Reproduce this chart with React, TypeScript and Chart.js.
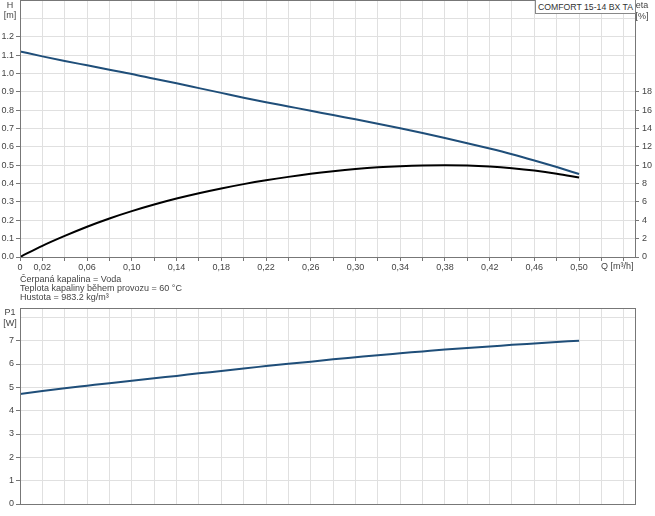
import React, { useEffect, useRef } from "react";
import { Chart, registerables } from "chart.js";

Chart.register(...registerables);

// ---- data ----
const Q = [0, 0.02, 0.04, 0.06, 0.08, 0.1, 0.12, 0.14, 0.16, 0.18, 0.2, 0.22, 0.24, 0.26, 0.28, 0.3, 0.32, 0.34, 0.36, 0.38, 0.4, 0.42, 0.44, 0.46, 0.48, 0.5];
const H = [1.12, 1.093, 1.068, 1.044, 1.02, 0.997, 0.971, 0.946, 0.92, 0.894, 0.868, 0.843, 0.82, 0.797, 0.773, 0.75, 0.726, 0.701, 0.675, 0.648, 0.62, 0.591, 0.56, 0.526, 0.49, 0.452];
const ETA = [0, 1.22, 2.3, 3.3, 4.2, 5.0, 5.72, 6.37, 6.95, 7.47, 7.94, 8.36, 8.73, 9.06, 9.34, 9.58, 9.77, 9.9, 9.98, 10.0, 9.96, 9.85, 9.67, 9.42, 9.08, 8.66];
const P1 = [4.71, 4.84, 4.96, 5.07, 5.18, 5.28, 5.39, 5.49, 5.6, 5.7, 5.81, 5.91, 6.01, 6.1, 6.2, 6.29, 6.38, 6.46, 6.54, 6.62, 6.69, 6.75, 6.82, 6.88, 6.94, 7.0];

// ---- ticks / labels ----
const Q_GRID = [0, 0.02, 0.04, 0.06, 0.08, 0.1, 0.12, 0.14, 0.16, 0.18, 0.2, 0.22, 0.24, 0.26, 0.28, 0.3, 0.32, 0.34, 0.36, 0.38, 0.4, 0.42, 0.44, 0.46, 0.48, 0.5, 0.52, 0.54];
const Q_LABELS = ["0", "0,02", "", "0,06", "", "0,10", "", "0,14", "", "0,18", "", "0,22", "", "0,26", "", "0,30", "", "0,34", "", "0,38", "", "0,42", "", "0,46", "", "0,50", "", ""];
const Q_MAX = 0.55;
const H_GRID = [0, 0.1, 0.2, 0.3, 0.4, 0.5, 0.6, 0.7, 0.8, 0.9, 1.0, 1.1, 1.2, 1.3, 1.4];
const H_LABELS = ["0.0", "0.1", "0.2", "0.3", "0.4", "0.5", "0.6", "0.7", "0.8", "0.9", "1.0", "1.1", "1.2", "", ""];
const H_MAX = 1.4;
const ETA_GRID = [0, 2, 4, 6, 8, 10, 12, 14, 16, 18];
const ETA_LABELS = ["0", "2", "4", "6", "8", "10", "12", "14", "16", "18"];
const ETA_MAX = 28;
const P1_GRID = [0, 1, 2, 3, 4, 5, 6, 7, 8];
const P1_LABELS = ["0", "1", "2", "3", "4", "5", "6", "7", ""];
const P1_MAX = 8.4;

const FONT = 'Arial, "Liberation Sans", sans-serif';
const GRID = "#e0e0e0";
const AXIS = "#777";
const TEXT = "#444";
const BLUE = "#1f4e79";

const align = (v: number) => Math.round(v - 0.5) + 0.5;

const framePlugin = {
  id: "frame",
  afterDraw(chart: any) {
    const { ctx, chartArea: a } = chart;
    ctx.save();
    ctx.strokeStyle = AXIS;
    ctx.lineWidth = 1;
    const l = align(a.left), t = align(a.top), r = align(a.right), b = align(a.bottom);
    ctx.strokeRect(l, t, r - l, b - t);
    ctx.restore();
  },
};

const setTicks = (grid: number[]) => (axis: any) => {
  axis.ticks = grid.map((v) => ({ value: v }));
};

const fitY = (s: any) => {
  s.width = 20;
  s.paddingTop = 0;
  s.paddingBottom = 0;
};

function makeXScale(showLabels: boolean, height: number) {
  return {
    type: "linear",
    min: 0,
    max: Q_MAX,
    afterBuildTicks: setTicks(Q_GRID),
    afterFit: (s: any) => {
      s.height = height;
      s.paddingLeft = 0;
      s.paddingRight = 0;
    },
    border: { color: AXIS },
    grid: { color: GRID, tickColor: AXIS, tickLength: showLabels ? 4 : 0, drawTicks: showLabels },
    ticks: {
      display: showLabels,
      autoSkip: false,
      maxRotation: 0,
      minRotation: 0,
      padding: 1,
      color: TEXT,
      font: { family: FONT, size: 9 },
      callback: (_v: any, i: number) => Q_LABELS[i],
    },
  };
}

function TopChart() {
  const ref = useRef<HTMLCanvasElement>(null);
  useEffect(() => {
    const chart = new Chart(ref.current!, {
      type: "line",
      data: {
        datasets: [
          {
            data: Q.map((q, i) => ({ x: q, y: H[i] })),
            borderColor: BLUE,
            borderWidth: 2,
            pointRadius: 0,
            cubicInterpolationMode: "monotone",
            yAxisID: "y",
          },
          {
            data: Q.map((q, i) => ({ x: q, y: ETA[i] })),
            borderColor: "#000",
            borderWidth: 2,
            pointRadius: 0,
            cubicInterpolationMode: "monotone",
            yAxisID: "eta",
          },
        ],
      },
      options: {
        animation: false,
        responsive: false,
        layout: { padding: { top: 0, left: 0, right: 0, bottom: 0 } },
        plugins: { legend: { display: false }, tooltip: { enabled: false } },
        scales: {
          x: makeXScale(true, 19) as any,
          y: {
            type: "linear",
            position: "left",
            min: 0,
            max: H_MAX,
            afterBuildTicks: setTicks(H_GRID),
            afterFit: fitY,
            border: { color: AXIS },
            grid: {
              color: GRID,
              tickLength: 4,
              tickColor: (c: any) => (c.tick && c.tick.value > 1.25 ? "rgba(0,0,0,0)" : AXIS),
            },
            ticks: {
              autoSkip: false,
              padding: 2,
              color: TEXT,
              font: { family: FONT, size: 9 },
              callback: (_v: any, i: number) => H_LABELS[i],
            },
          },
          eta: {
            type: "linear",
            position: "right",
            min: 0,
            max: ETA_MAX,
            afterBuildTicks: setTicks(ETA_GRID),
            afterFit: fitY,
            border: { color: AXIS },
            grid: { drawOnChartArea: false, tickLength: 4, tickColor: AXIS },
            ticks: {
              autoSkip: false,
              padding: 3,
              color: TEXT,
              font: { family: FONT, size: 9 },
              callback: (_v: any, i: number) => ETA_LABELS[i],
            },
          },
        },
      },
      plugins: [framePlugin],
    } as any);
    return () => chart.destroy();
  }, []);
  return <canvas ref={ref} width={655} height={276} style={{ position: "absolute", left: 0, top: 0, display: "block" }} />;
}

function BottomChart() {
  const ref = useRef<HTMLCanvasElement>(null);
  useEffect(() => {
    const chart = new Chart(ref.current!, {
      type: "line",
      data: {
        datasets: [
          {
            data: Q.map((q, i) => ({ x: q, y: P1[i] })),
            borderColor: BLUE,
            borderWidth: 2,
            pointRadius: 0,
            cubicInterpolationMode: "monotone",
          },
        ],
      },
      options: {
        animation: false,
        responsive: false,
        layout: { padding: { top: 8, left: 0, right: 20, bottom: 0 } },
        plugins: { legend: { display: false }, tooltip: { enabled: false } },
        scales: {
          x: makeXScale(false, 12) as any,
          y: {
            type: "linear",
            min: 0,
            max: P1_MAX,
            afterBuildTicks: setTicks(P1_GRID),
            afterFit: fitY,
            border: { color: AXIS },
            grid: {
              color: GRID,
              tickLength: 4,
              tickColor: (c: any) => (c.tick && c.tick.value > 7.5 ? "rgba(0,0,0,0)" : AXIS),
            },
            ticks: {
              autoSkip: false,
              padding: 2,
              color: TEXT,
              font: { family: FONT, size: 9 },
              callback: (_v: any, i: number) => P1_LABELS[i],
            },
          },
        },
      },
      plugins: [framePlugin],
    } as any);
    return () => chart.destroy();
  }, []);
  return <canvas ref={ref} width={655} height={216} style={{ position: "absolute", left: 0, top: 300, display: "block" }} />;
}

const txt: React.CSSProperties = { position: "absolute", whiteSpace: "nowrap", fontFamily: FONT, fontSize: 9, color: TEXT };

export default function App() {
  return (
    <div style={{ position: "absolute", left: 0, top: 0, width: 655, height: 516, background: "#fff", overflow: "hidden" }}>
      <TopChart />
      <BottomChart />
      <div style={{ ...txt, left: 2, top: 0, width: 16, textAlign: "center", lineHeight: "10px" }}>
        H<br />[m]
      </div>
      <div style={{ ...txt, left: 634, top: 0, width: 16, textAlign: "center", lineHeight: "10.5px" }}>
        eta<br />[%]
      </div>
      <div style={{ ...txt, left: 601, top: 261, lineHeight: "11px" }}>Q [m³/h]</div>
      <div
        style={{
          ...txt,
          left: 535,
          top: 0,
          width: 99,
          height: 13,
          border: "1px solid #888",
          borderTop: "none",
          lineHeight: "14px",
          fontSize: 8.7,
          textAlign: "center",
          background: "#fff",
          color: "#333",
        }}
      >
        COMFORT 15-14 BX TA
      </div>
      <div style={{ ...txt, left: 20, top: 274.5, lineHeight: "9.2px" }}>
        Čerpaná kapalina = Voda
        <br />
        Teplota kapaliny během provozu = 60 °C
        <br />
        Hustota = 983.2 kg/m³
      </div>
      <div style={{ ...txt, left: 2, top: 307, width: 16, textAlign: "center", lineHeight: "11px" }}>
        P1<br />[W]
      </div>
    </div>
  );
}
